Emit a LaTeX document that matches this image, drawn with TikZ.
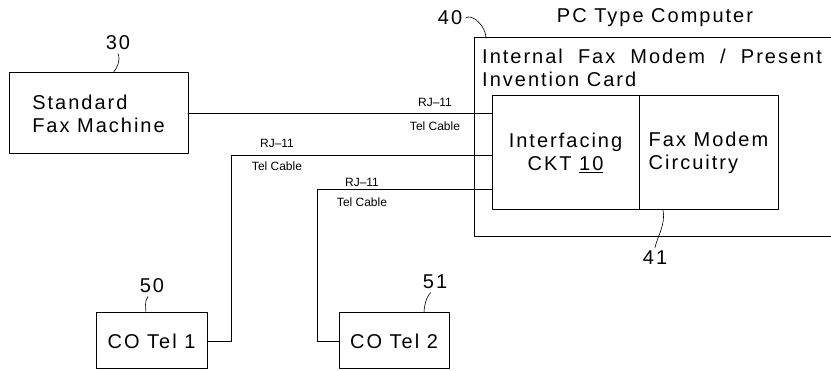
\documentclass[tikz,border=0pt]{standalone}
\usepackage{fontspec}
\setmainfont{Liberation Sans}
\newfontfamily\draftfont{Liberation Sans}[LetterSpace=10]
\begin{document}
\begin{tikzpicture}[x=1pt,y=-1pt,line join=round,line cap=round,
	box/.style={draw,line width=1pt,inner sep=0pt,outer sep=0pt},
	big/.style={font=\draftfont\fontsize{20}{23}\selectfont},
	small/.style={font=\fontsize{12}{14}\selectfont},
	cable/.style={line width=0.8pt},
	lead/.style={line width=0.6pt}]
	\useasboundingbox (0,0) rectangle (831,371);
	% boxes
	\node[box,big,align=left,minimum width=179,minimum height=81] (fax) at (98.5,113.5) {Standard\\Fax Machine};
	\node[box,minimum width=376,minimum height=199] (pc) at (662,137.5) {};
	\node[box,big,align=center,minimum width=147,minimum height=114] (ckt) at (565.5,153) {Interfacing\\CKT \underline{10}};
	\node[box,big,align=left,minimum width=139,minimum height=114,anchor=west] (modem) at (ckt.east) {Fax Modem\\Circuitry};
	\node[box,big,minimum width=111,minimum height=56] (tel1) at (151.5,341) {CO Tel 1};
	\node[box,big,minimum width=110,minimum height=56] (tel2) at (394,341) {CO Tel 2};
	% texts
	\node[big] (pctitle) at (655,18) {PC Type Computer};
	\node[big,align=left,anchor=north west,inner sep=0pt] (card) at (482,49) {Internal\ \ Fax\ \ Modem\ \ /\ \ Present\\Invention Card};
	\node[big] (l30) at (118,43) {30};
	\node[big] (l40) at (450,18) {40};
	\node[big] (l41) at (655,258) {41};
	\node[big] (l50) at (152,286) {50};
	\node[big] (l51) at (435,282) {51};
	% cables
	\coordinate (b1) at (231,155);
	\coordinate (b2) at (317,189);
	\draw[cable] (fax.east) -- (fax.east -| ckt.west);
	\draw[cable] (tel1.east) -| (b1) -- (b1 -| ckt.west);
	\draw[cable] (tel2.west) -| (b2) -- (b2 -| ckt.west);
	\node[small] (rj1) at (435,102) {RJ–11};
	\node[small] (tc1) at (435,126) {Tel Cable};
	\node[small] (rj2) at (277,143) {RJ–11};
	\node[small] (tc2) at (277,166) {Tel Cable};
	\node[small] (rj3) at (362,182) {RJ–11};
	\node[small] (tc3) at (362,202) {Tel Cable};
	% leaders
	\coordinate (c40) at (486,38);
	\draw[lead] (l30.south) .. controls +(3,7) and +(4,-5) .. ([xshift=-5]fax.north -| l30);
	\draw[lead] (l40.east) .. controls +(6,-5) and +(0,-12) .. (c40);
	\draw[lead] ([xshift=-45.5]modem.south) .. controls +(3,14) and +(2,-10) .. (l41.north);
	\draw[lead] ([xshift=-4]l50.south) .. controls +(-4,5) and +(0,-5) .. ([xshift=-5.5]tel1.north);
	\draw[lead] ([xshift=-4]l51.south) .. controls +(-5,4) and +(0,-6) .. ([xshift=30]tel2.north);
\end{tikzpicture}
\end{document}
